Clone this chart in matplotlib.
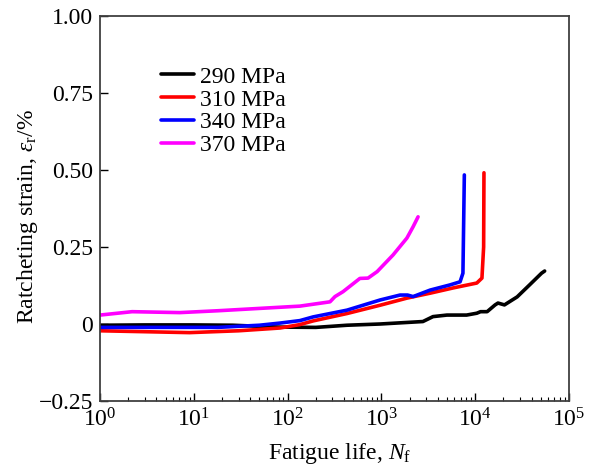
import numpy as np
import matplotlib
matplotlib.use('Agg')
import matplotlib.pyplot as plt
from matplotlib.ticker import LogLocator, FixedLocator, NullFormatter

plt.rcParams['font.family'] = ['Liberation Serif', 'DejaVu Serif']
plt.rcParams['mathtext.fontset'] = 'custom'
plt.rcParams['mathtext.rm'] = 'Liberation Serif'
plt.rcParams['mathtext.it'] = 'Liberation Serif:italic'

# data (cycles, ratcheting strain %)
labels = ['290 MPa', '310 MPa', '340 MPa', '370 MPa']
colors = ['#000000', '#ff0000', '#0000ff', '#ff00ff']

n_290 = [1, 3, 10, 26, 80, 200, 430, 970, 2770, 3550, 5000, 8100, 10400,
         11400, 13400, 16300, 17500, 20500, 28000, 38000, 51000, 55000]
e_290 = [-0.004, -0.003, -0.003, -0.004, -0.010, -0.011, -0.004, 0.000,
         0.008, 0.024, 0.029, 0.029, 0.035, 0.040, 0.040, 0.062, 0.068,
         0.062, 0.088, 0.127, 0.165, 0.172]

n_310 = [1, 3, 9, 30, 83, 135, 187, 430, 970, 1870, 3300, 5800, 10400,
         11800, 12300, 12400]
e_310 = [-0.022, -0.025, -0.028, -0.022, -0.013, -0.002, 0.010, 0.034,
         0.061, 0.084, 0.100, 0.117, 0.133, 0.149, 0.250, 0.491]

n_340 = [1, 3, 10, 18, 50, 83, 135, 187, 430, 970, 1580, 1900, 2180, 3300,
         5400, 6900, 7400, 7660]
e_340 = [-0.011, -0.011, -0.011, -0.011, -0.004, 0.003, 0.011, 0.023,
         0.045, 0.078, 0.094, 0.094, 0.089, 0.110, 0.127, 0.137, 0.165, 0.484]

n_370 = [1, 2.2, 7.1, 18, 135, 283, 320, 390, 590, 720, 900, 1330, 1870,
         2180, 2460]
e_370 = [0.029, 0.040, 0.037, 0.043, 0.058, 0.072, 0.089, 0.105, 0.148,
         0.149, 0.170, 0.224, 0.279, 0.316, 0.348]

series_n = [n_290, n_310, n_340, n_370]
series_e = [e_290, e_310, e_340, e_370]

y_ticks = [-0.25, 0, 0.25, 0.50, 0.75, 1.00]
y_tick_labels = ['\u22120.25', '0', '0.25', '0.50', '0.75', '1.00']

FS = 17

fig = plt.figure(figsize=(5.89, 4.66), dpi=100)
ax = fig.add_axes([100 / 589, 1 - 401 / 466, 469 / 589, 385 / 466])

for n, e, c, lab in zip(series_n, series_e, colors, labels):
    ax.plot(n, e, color=c, lw=2.6, label=lab, solid_capstyle='round',
            solid_joinstyle='round')

ax.set_xscale('log')
ax.set_xlim(1, 1e5)
ax.set_ylim(-0.25, 1.0)
ax.xaxis.set_major_locator(LogLocator(base=10, numticks=10))
ax.xaxis.set_minor_locator(LogLocator(base=10, subs=np.arange(2, 10), numticks=20))
ax.xaxis.set_minor_formatter(NullFormatter())
ax.yaxis.set_major_locator(FixedLocator(y_ticks))
ax.set_yticklabels(y_tick_labels)

ax.tick_params(axis='both', which='major', direction='in', length=6, width=1,
               labelsize=FS, top=False, right=False, pad=5)
ax.tick_params(axis='x', which='minor', direction='in', length=3, width=0.8,
               top=False)
for s in ax.spines.values():
    s.set_color('#404040')
    s.set_linewidth(1.3)

ax.set_ylabel('Ratcheting strain, $\\varepsilon_\\mathrm{r}$/%', fontsize=FS)
ax.yaxis.set_label_coords(-0.128, 0.48)
fig.text(339.5 / 589, 1 - 459 / 466, 'Fatigue life, $N_\\mathrm{f}$',
         fontsize=FS, ha='center', va='baseline')

ax.legend(loc='upper left', bbox_to_anchor=(0.13, 0.87), frameon=False,
          fontsize=FS, handlelength=1.4, handletextpad=0.25, labelspacing=0.06,
          borderaxespad=0, borderpad=0)

fig.savefig('out.png', dpi=100)
